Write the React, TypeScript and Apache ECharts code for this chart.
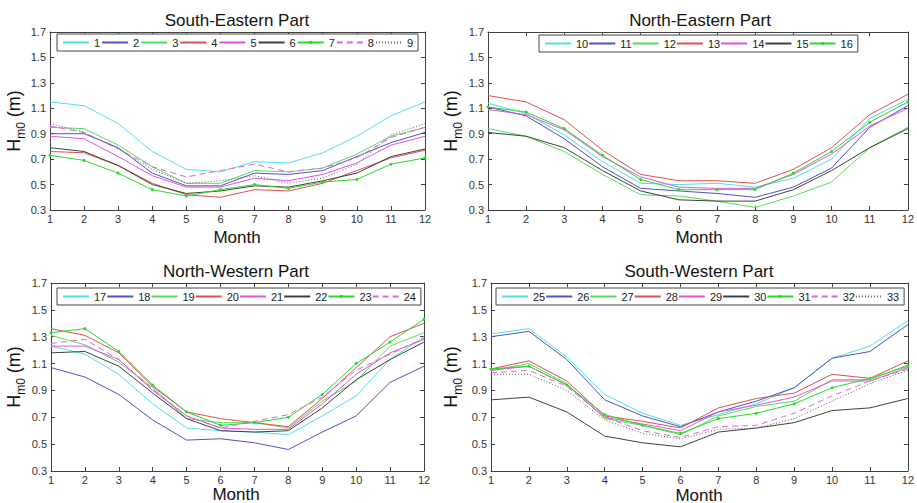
import React, { useEffect, useRef } from 'react';
import * as echarts from 'echarts';

const months = [1, 2, 3, 4, 5, 6, 7, 8, 9, 10, 11, 12];

const panelTitles = ['South-Eastern Part', 'North-Eastern Part', 'North-Western Part', 'South-Western Part'];
const xAxisTitle = 'Month';

// South-Eastern Part
const h1 = [1.15, 1.12, 0.98, 0.76, 0.62, 0.60, 0.68, 0.67, 0.75, 0.88, 1.04, 1.15];
const h2 = [0.90, 0.90, 0.79, 0.59, 0.49, 0.49, 0.59, 0.58, 0.61, 0.72, 0.83, 0.91];
const h3 = [0.95, 0.94, 0.81, 0.64, 0.51, 0.51, 0.61, 0.60, 0.63, 0.74, 0.88, 0.95];
const h4 = [0.76, 0.75, 0.65, 0.51, 0.42, 0.40, 0.46, 0.45, 0.51, 0.61, 0.71, 0.77];
const h5 = [0.88, 0.86, 0.72, 0.57, 0.48, 0.48, 0.55, 0.53, 0.58, 0.67, 0.81, 0.88];
const h6 = [0.79, 0.76, 0.65, 0.50, 0.43, 0.45, 0.49, 0.48, 0.53, 0.59, 0.72, 0.78];
const h7 = [0.73, 0.69, 0.59, 0.46, 0.41, 0.46, 0.50, 0.47, 0.52, 0.54, 0.66, 0.71];
const h8 = [0.96, 0.91, 0.78, 0.64, 0.56, 0.61, 0.66, 0.60, 0.63, 0.71, 0.87, 0.95];
const h9 = [0.98, 0.91, 0.78, 0.62, 0.51, 0.53, 0.57, 0.51, 0.55, 0.66, 0.89, 0.98];

// North-Eastern Part
const h10 = [1.14, 1.06, 0.89, 0.68, 0.51, 0.50, 0.51, 0.48, 0.55, 0.70, 1.02, 1.17];
const h11 = [1.11, 1.04, 0.86, 0.64, 0.47, 0.45, 0.43, 0.40, 0.48, 0.63, 0.95, 1.12];
const h12 = [0.94, 0.88, 0.76, 0.58, 0.42, 0.41, 0.37, 0.32, 0.41, 0.52, 0.79, 0.95];
const h13 = [1.20, 1.15, 1.01, 0.77, 0.58, 0.53, 0.53, 0.51, 0.62, 0.79, 1.05, 1.21];
const h14 = [1.09, 1.05, 0.93, 0.72, 0.56, 0.48, 0.47, 0.47, 0.58, 0.74, 0.96, 1.10];
const h15 = [0.91, 0.88, 0.79, 0.61, 0.45, 0.38, 0.37, 0.37, 0.46, 0.61, 0.79, 0.94];
const h16 = [1.11, 1.07, 0.94, 0.73, 0.54, 0.46, 0.46, 0.46, 0.59, 0.76, 0.99, 1.15];

// North-Western Part
const h17 = [1.23, 1.17, 1.02, 0.80, 0.62, 0.60, 0.59, 0.57, 0.71, 0.86, 1.13, 1.30];
const h18 = [1.07, 1.00, 0.87, 0.68, 0.53, 0.54, 0.51, 0.46, 0.59, 0.71, 0.96, 1.08];
const h19 = [1.31, 1.24, 1.11, 0.92, 0.69, 0.66, 0.66, 0.62, 0.82, 0.97, 1.23, 1.33];
const h20 = [1.36, 1.31, 1.18, 0.93, 0.74, 0.69, 0.66, 0.63, 0.84, 1.07, 1.30, 1.40];
const h21 = [1.23, 1.23, 1.13, 0.90, 0.71, 0.62, 0.61, 0.61, 0.80, 1.02, 1.18, 1.28];
const h22 = [1.18, 1.19, 1.08, 0.88, 0.69, 0.60, 0.59, 0.60, 0.77, 0.98, 1.13, 1.26];
const h23 = [1.33, 1.36, 1.19, 0.94, 0.74, 0.64, 0.66, 0.70, 0.87, 1.10, 1.26, 1.43];
const h24 = [1.25, 1.28, 1.13, 0.91, 0.71, 0.62, 0.67, 0.72, 0.85, 1.05, 1.17, 1.29];

// South-Western Part
const h25 = [1.32, 1.36, 1.15, 0.87, 0.73, 0.64, 0.72, 0.80, 0.92, 1.14, 1.23, 1.42];
const h26 = [1.30, 1.34, 1.13, 0.83, 0.71, 0.63, 0.74, 0.82, 0.92, 1.14, 1.19, 1.39];
const h27 = [1.05, 1.10, 0.95, 0.69, 0.64, 0.57, 0.71, 0.78, 0.82, 0.98, 0.98, 1.09];
const h28 = [1.06, 1.12, 0.97, 0.71, 0.67, 0.62, 0.77, 0.84, 0.88, 1.02, 0.99, 1.12];
const h29 = [1.05, 1.08, 0.94, 0.70, 0.65, 0.60, 0.74, 0.79, 0.85, 0.97, 0.97, 1.07];
const h30 = [0.83, 0.85, 0.74, 0.56, 0.51, 0.48, 0.59, 0.62, 0.66, 0.75, 0.77, 0.84];
const h31 = [1.06, 1.08, 0.94, 0.72, 0.64, 0.58, 0.69, 0.73, 0.80, 0.92, 0.99, 1.08];
const h32 = [1.03, 1.05, 0.93, 0.70, 0.60, 0.55, 0.63, 0.64, 0.73, 0.86, 0.97, 1.06];
const h33 = [1.02, 1.02, 0.90, 0.68, 0.58, 0.54, 0.61, 0.62, 0.69, 0.82, 0.95, 1.05];

const panelSeries = [
  [h1, h2, h3, h4, h5, h6, h7, h8, h9],
  [h10, h11, h12, h13, h14, h15, h16],
  [h17, h18, h19, h20, h21, h22, h23, h24],
  [h25, h26, h27, h28, h29, h30, h31, h32, h33],
];
const panelStartNumbers = [1, 10, 17, 25];

const lineStyles = [
  { color: '#4fe0e0', type: 'solid', marker: false },
  { color: '#5050c8', type: 'solid', marker: false },
  { color: '#55dd55', type: 'solid', marker: false },
  { color: '#dd5050', type: 'solid', marker: false },
  { color: '#e055e0', type: 'solid', marker: false },
  { color: '#404040', type: 'solid', marker: false },
  { color: '#2ad82a', type: 'solid', marker: true },
  { color: '#e066e0', type: [6, 4], marker: false },
  { color: '#606060', type: [1, 2], marker: false },
];

const grids = [
  { left: 50, top: 32, width: 375, height: 178 },
  { left: 488, top: 32, width: 422, height: 178 },
  { left: 51, top: 283, width: 373, height: 188 },
  { left: 491, top: 283, width: 418, height: 188 },
];
const legendLayout = [
  { left: 57, top: 34, itemWidth: 26, itemGap: 1 },
  { left: 539, top: 35, itemWidth: 26, itemGap: 0 },
  { left: 57, top: 288, itemWidth: 26, itemGap: 0 },
  { left: 496, top: 288, itemWidth: 26, itemGap: 0 },
];
const titlePos = [
  { x: 237, y: 20, mx: 237, my: 237, yx: 15, yy: 121 },
  { x: 700, y: 20, mx: 699, my: 237, yx: 452, yy: 121 },
  { x: 236, y: 271, mx: 236, my: 494, yx: 15, yy: 377 },
  { x: 699, y: 271, mx: 699, my: 495, yx: 452, yy: 377 },
];

const FONT = 'Liberation Sans, Arial, Helvetica, sans-serif';
const AXIS = '#404040';

export default function App() {
  const ref = useRef<HTMLDivElement>(null);
  useEffect(() => {
    if (!ref.current) return;
    const chart = echarts.init(ref.current, undefined, { renderer: 'svg' });
    const xAxes: any[] = [];
    const yAxes: any[] = [];
    const series: any[] = [];
    const legends: any[] = [];
    const graphics: any[] = [];

    panelSeries.forEach((list, p) => {
      const baseX = {
        type: 'value', gridIndex: p, min: 1, max: 12, interval: 1,
        axisLine: { show: true, onZero: false, lineStyle: { color: AXIS, width: 1 } },
        axisTick: { show: true, inside: true, length: 4, lineStyle: { color: AXIS } },
        splitLine: { show: false },
      };
      xAxes.push({
        ...baseX, position: 'bottom',
        axisLabel: { show: true, color: '#333', fontSize: 11, margin: 3, fontFamily: FONT },
      });
      xAxes.push({ ...baseX, position: 'top', axisLabel: { show: false } });
      const baseY = {
        type: 'value', gridIndex: p, min: 0.3, max: 1.7, interval: 0.2,
        axisLine: { show: true, onZero: false, lineStyle: { color: AXIS, width: 1 } },
        axisTick: { show: true, inside: true, length: 4, lineStyle: { color: AXIS } },
        splitLine: { show: false },
      };
      yAxes.push({
        ...baseY, position: 'left',
        axisLabel: {
          show: true, color: '#333', fontSize: 11, margin: 4, fontFamily: FONT,
          formatter: (v: number) => v.toFixed(1),
        },
      });
      yAxes.push({ ...baseY, position: 'right', axisLabel: { show: false } });

      const legendData: any[] = [];
      list.forEach((vals, i) => {
        const st = lineStyles[i];
        const name = String(panelStartNumbers[p] + i);
        legendData.push({ name, itemStyle: { opacity: st.marker ? 1 : 0 } });
        series.push({
          type: 'line', name,
          xAxisIndex: 2 * p, yAxisIndex: 2 * p,
          data: months.map((m, k) => [m, vals[k]]),
          symbol: st.marker ? 'circle' : 'none',
          symbolSize: 3,
          showSymbol: st.marker,
          itemStyle: { color: st.color },
          lineStyle: { color: st.color, width: 1, type: st.type },
          emphasis: { disabled: true },
          silent: true,
        });
      });

      const lg = legendLayout[p];
      legends.push({
        show: true,
        left: lg.left, top: lg.top, width: 600,
        orient: 'horizontal',
        data: legendData,
        itemWidth: lg.itemWidth, itemHeight: 4, itemGap: lg.itemGap,
        padding: [3, 5, 3, 5],
        borderColor: '#444', borderWidth: 1,
        backgroundColor: '#fff',
        selectedMode: false,
        textStyle: { color: '#222', fontSize: 11, fontFamily: FONT },
        itemStyle: { opacity: 0 },
      });

      const tp = titlePos[p];
      graphics.push({
        type: 'text', x: tp.x, y: tp.y, silent: true,
        style: { text: panelTitles[p], align: 'center', verticalAlign: 'middle', fontSize: 17, fontFamily: FONT, fill: '#111' },
      });
      graphics.push({
        type: 'text', x: tp.mx, y: tp.my, silent: true,
        style: { text: xAxisTitle, align: 'center', verticalAlign: 'middle', fontSize: 17, fontFamily: FONT, fill: '#111' },
      });
      graphics.push({
        type: 'text', x: tp.yx, y: tp.yy, rotation: Math.PI / 2, silent: true,
        style: {
          text: '{a|H}{b|m0}{a| (m)}',
          align: 'center', verticalAlign: 'middle', fill: '#111',
          rich: {
            a: { fontSize: 18, fontFamily: FONT, fill: '#111', lineHeight: 20, verticalAlign: 'top' },
            b: { fontSize: 12, fontFamily: FONT, fill: '#111', lineHeight: 12, padding: [10, 0, 0, 0], verticalAlign: 'top' },
          },
        },
      });
    });

    chart.setOption({
      animation: false,
      textStyle: { fontFamily: FONT },
      grid: grids.map((g) => ({ ...g, containLabel: false })),
      xAxis: xAxes,
      yAxis: yAxes,
      legend: legends,
      series,
      graphic: graphics,
    });
    return () => chart.dispose();
  }, []);
  return (
    <div
      ref={ref}
      style={{ position: 'fixed', left: 0, top: 0, width: 917, height: 503, background: '#fff' }}
    />
  );
}
